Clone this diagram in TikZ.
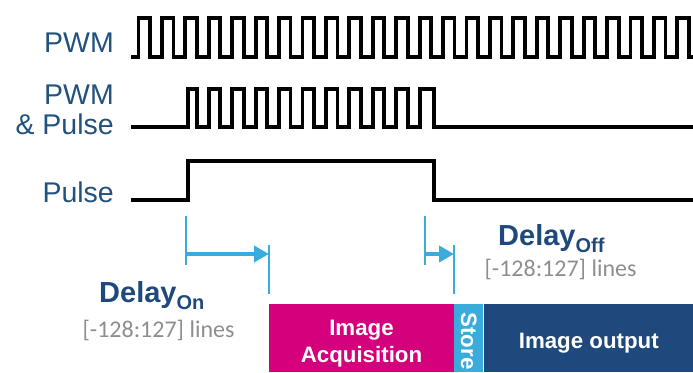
\documentclass[tikz,border=0pt]{standalone}
\usepackage{fontspec}
\setmainfont{Liberation Sans}
\newfontfamily\linesfont{Carlito}
\usetikzlibrary{arrows.meta, positioning}
\definecolor{labelblue}{HTML}{21527F}
\definecolor{delayblue}{HTML}{3AACDC}
\definecolor{acqmagenta}{HTML}{D5007B}
\definecolor{outblue}{HTML}{1F497D}
\definecolor{rangegray}{HTML}{8E8E8E}

\begin{document}
\begin{tikzpicture}[x=1pt, y=-1pt,
      sig/.style = {draw, line width=3.8pt, line join=miter},
      siglabel/.style = {text=labelblue, inner sep=0pt, font=\fontsize{28.5}{30}\selectfont, align=right},
      block/.style = {draw=none, minimum height=68pt, inner sep=0pt},
      blocktext/.style = {text=white, inner sep=0pt, font=\bfseries\fontsize{22.3}{27}\selectfont, align=center},
      delaytext/.style = {text=outblue, inner sep=0pt, anchor=base west, font=\bfseries\fontsize{29}{30}\selectfont},
      rangetext/.style = {text=rangegray, inner sep=0pt, anchor=base, font=\linesfont\fontsize{24}{28}\selectfont},
      delaytick/.style = {draw=delayblue, line width=2.5pt},
      delayarrow/.style = {draw=delayblue, line width=4pt, -{Triangle[length=15pt,width=16pt]}}]
      \useasboundingbox (0,0) rectangle (693,372);

      \node[siglabel, anchor=base east] (pwm)      at (114,52)  {PWM};
      \node[siglabel, anchor=east]      (pwmpulse) at (114,110) {PWM\\\& Pulse};
      \node[siglabel, anchor=base east] (pulse)    at (114,202) {Pulse};

      \draw[sig] (131,57) foreach \k in {0,...,23} {
            -- ({138.5+23.43*\k},57) -- ++(0,-39) -- ++(11.5,0) -- ++(0,39) } -- (693,57);
      \draw[sig] (131,127) -- (188,127) -- (188,89) foreach \k in {2,...,11} {
            -- ({150+23.43*\k},89) -- ++(0,38) -- ({138.5+23.43*(\k+1)},127) -- ++(0,-38) }
            -- (434,89) -- (434,127) -- (693,127);
      \draw[sig] (131,200) -- (188,200) -- (188,161) -- (434,161) -- (434,200) -- (693,200);

      \coordinate (onstart)  at (186,254);
      \coordinate (onend)    at (269,254);
      \coordinate (offstart) at (425,254);
      \coordinate (offend)   at (454,254);
      \draw[delaytick] (onstart) ++(0,-38) -- ++(0,49);
      \draw[delaytick] (onend) ++(0,-9) -- ++(0,49);
      \draw[delaytick] (offstart) ++(0,-38) -- ++(0,49);
      \draw[delaytick] (offend) ++(0,-9) -- ++(0,49);
      \draw[delayarrow] (onstart) -- (onend);
      \draw[delayarrow] (offstart) -- (offend);

      \node[delaytext] (delayon)  at (99,302)  {Delay{\fontsize{20}{20}\selectfont\raisebox{-7pt}{On}}};
      \node[rangetext] (onrange)  at (158.5,337) {[-128:127] lines};
      \node[delaytext] (delayoff) at (498,245) {Delay{\fontsize{20}{20}\selectfont\raisebox{-7pt}{Off}}};
      \node[rangetext] (offrange) at (560.5,276) {[-128:127] lines};

      \node[block, fill=acqmagenta, minimum width=185pt] (acq) at (361.5,338) {};
      \node[block, fill=delayblue, minimum width=29pt, right=0pt of acq] (store) {};
      \node[block, fill=outblue, minimum width=210pt, right=0pt of store] (output) {};
      \node[blocktext] (acqtext) at ([yshift=-6pt]acq.center) {Image\\Acquisition};
      \node[blocktext, rotate=-90] (storetext) at ([yshift=-3pt]store.center) {Store};
      \node[blocktext] (outtext) at ([yshift=-5pt]output.center) {Image output};
\end{tikzpicture}
\end{document}
